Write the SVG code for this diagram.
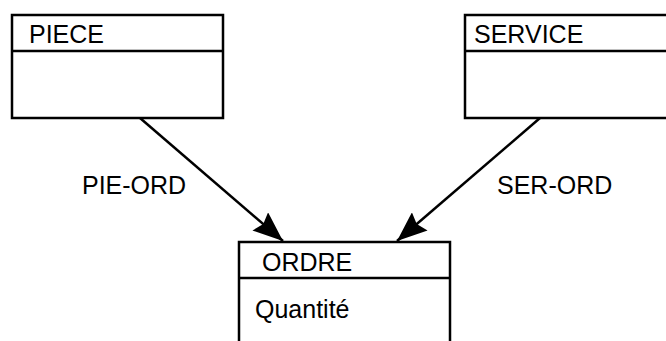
<svg xmlns="http://www.w3.org/2000/svg" width="666" height="341" viewBox="0 0 666 341">
<style>
.box{fill:#fff;stroke:#000;stroke-width:2.5}
.t{font-family:"Liberation Sans",Arial,sans-serif;font-size:25px;fill:#000}
.c{stroke:#000;stroke-width:2.5;fill:none}
</style>
<defs>
<marker id="ah" viewBox="0 0 30 24" refX="30" refY="12" markerWidth="30" markerHeight="24" markerUnits="userSpaceOnUse" orient="auto">
<path d="M0,0 L30,12 L0,24 L4,12 z" fill="#000"/>
</marker>
</defs>
<rect width="666" height="341" fill="#fff"/>
<g id="connectors">
<line class="c" x1="140" y1="118" x2="283" y2="241" marker-end="url(#ah)"/>
<line class="c" x1="540" y1="118" x2="397" y2="241" marker-end="url(#ah)"/>
<text class="t" x="82" y="194">PIE-ORD</text>
<text class="t" x="497" y="194">SER-ORD</text>
</g>
<g id="piece">
<rect class="box" x="12" y="15" width="211" height="103"/>
<line class="c" x1="11" y1="51" x2="223" y2="51"/>
<text class="t" x="29" y="43">PIECE</text>
</g>
<g id="service">
<rect class="box" x="465" y="15" width="215" height="103"/>
<line class="c" x1="464" y1="51" x2="666" y2="51"/>
<text class="t" x="474" y="43">SERVICE</text>
</g>
<g id="ordre">
<rect class="box" x="239" y="242" width="211" height="120"/>
<line class="c" x1="238" y1="278" x2="450" y2="278"/>
<text class="t" x="262" y="271">ORDRE</text>
<text class="t" x="255" y="318">Quantité</text>
</g>
</svg>
